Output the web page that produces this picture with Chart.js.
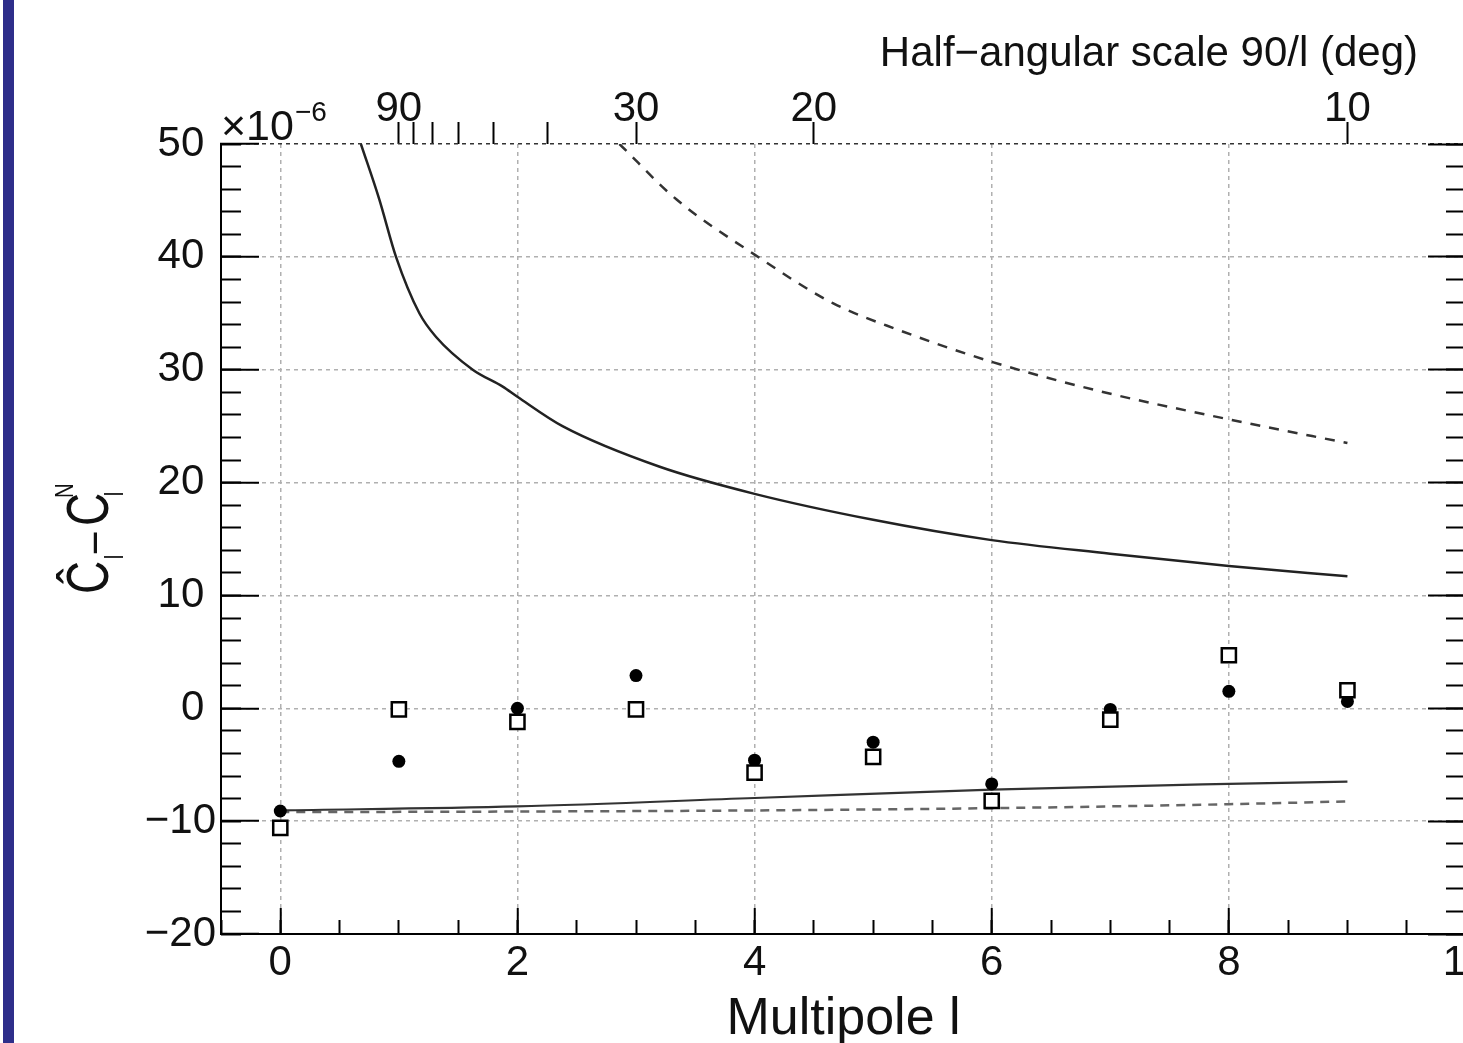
<!DOCTYPE html>
<html>
<head>
<meta charset="utf-8">
<script src="https://cdn.jsdelivr.net/npm/chart.js@4.4.0/dist/chart.umd.min.js"></script>
<style>
  html, body { margin: 0; padding: 0; background: #fff; overflow: hidden; }
  #wrap { position: relative; width: 1463px; height: 1043px; overflow: hidden; }
  #bar { position: absolute; left: 3px; top: 0; width: 11px; height: 1043px; background: #2e2e8a; }
  #myChart { position: absolute; left: 0; top: 0; }
</style>
</head>
<body>
<div id="wrap">
  <div id="bar"></div>
  <canvas id="myChart" width="1481" height="1043"></canvas>
</div>
<script>
// multipoles and the two sets of measured points (x 1e-6)
const multipoles = [0, 1, 2, 3, 4, 5, 6, 7, 8, 9];
const filledValues = [-9.1, -4.7, 0.0, 2.9, -4.6, -3.0, -6.7, -0.1, 1.5, 0.6];
const openValues = [-10.6, -0.1, -1.2, -0.1, -5.7, -4.3, -8.2, -1.0, 4.7, 1.6];

// curves
const upperSolidL = [0.68, 0.835, 0.976, 1.173, 1.314, 1.623, 1.876, 2.0, 2.38, 3.2, 4, 5, 6, 7, 8, 9];
const upperSolidV = [50, 45.1, 40.0, 35.0, 32.9, 30.0, 28.5, 27.6, 25.0, 21.4, 19.0, 16.7, 14.9, 13.7, 12.6, 11.7];
const upperDashL = [2.86, 3.34, 4.0, 4.66, 5.22, 6.0, 6.91, 8.0, 9.0];
const upperDashV = [50, 45.1, 40.2, 35.9, 33.5, 30.7, 28.1, 25.6, 23.5];
const lowerSolidL = [0, 2, 4, 6, 8, 9];
const lowerSolidV = [-9.05, -8.7, -7.95, -7.2, -6.7, -6.5];
const lowerDashL = [0, 2, 4, 6, 8, 9];
const lowerDashV = [-9.2, -9.15, -9.05, -8.85, -8.5, -8.25];

// ticks
const xMajorTicks = [0, 2, 4, 6, 8, 10];
const topDegrees = [90, 80, 70, 60, 50, 40, 30, 20, 10];
const topDegreeLabels = ['90', '', '', '', '', '', '30', '20', '10'];
const topAxisTitle = 'Half\u2212angular scale 90/l (deg)';

const FONT = '"Liberation Sans", Arial, sans-serif';
const tickFont = { family: FONT, size: 42, lineHeight: 1 };

const toPoints = (xs, ys) => xs.map((x, i) => ({ x: x, y: ys[i] }));
const fmt = v => (v < 0 ? '\u2212' + Math.abs(v) : String(v));
// negative y labels sit a bit closer to the axis in the original
const fmtY = v => (v < 0 ? '\u2212' + Math.abs(v) : String(v) + ' ');

// fixed axis box sizes, no extra label padding
const fixBox = (w, h) => s => {
    if (w !== null) s.width = w;
    if (h !== null) s.height = h;
    s.paddingLeft = 0;
    s.paddingRight = 0;
    s.paddingTop = 0;
    s.paddingBottom = 0;
};

const extraText = {
    id: 'extraText',
    afterDraw(chart) {
        const { ctx, chartArea } = chart;
        ctx.save();
        ctx.fillStyle = '#111';
        ctx.textBaseline = 'alphabetic';
        ctx.textAlign = 'left';
        // exponent of the y scale
        ctx.font = '43px ' + FONT;
        ctx.fillText('\u00d710', chartArea.left, chartArea.top - 4);
        const w = ctx.measureText('\u00d710').width;
        ctx.font = '28px ' + FONT;
        ctx.fillText('\u22126', chartArea.left + w + 1, chartArea.top - 23);
        // title of the top axis
        ctx.font = '42px ' + FONT;
        ctx.textAlign = 'right';
        ctx.fillText(topAxisTitle, chartArea.right - 48, 66);
        // y title with sub/superscripts
        ctx.translate(108, (chartArea.top + chartArea.bottom) / 2 + 55);
        ctx.rotate(-Math.PI / 2);
        ctx.scale(0.85, 1.1);
        ctx.textAlign = 'left';
        const parts = [
            ['\u0108', 54, 0, 0],
            ['l', 24, 41, 14],
            ['\u2013', 44, 48, 0],
            ['C', 54, 80, 0],
            ['l', 24, 115, 14],
            ['N', 24, 113, -32]
        ];
        parts.forEach(([t, size, dx, dy]) => {
            ctx.font = size + 'px ' + FONT;
            ctx.fillText(t, dx, dy);
        });
        ctx.restore();
    }
};

const ctx = document.getElementById('myChart').getContext('2d');

const data = {
    datasets: [
        {
            data: toPoints(multipoles, openValues),
            pointStyle: 'rect',
            pointRadius: 10,
            pointBackgroundColor: '#fff',
            pointBorderColor: '#000',
            pointBorderWidth: 2.5,
            showLine: false
        },
        {
            data: toPoints(multipoles, filledValues),
            pointStyle: 'circle',
            pointRadius: 6.5,
            pointBackgroundColor: '#000',
            pointBorderWidth: 0,
            showLine: false
        },
        {
            data: toPoints(upperSolidL, upperSolidV),
            showLine: true,
            pointRadius: 0,
            borderColor: '#222',
            borderWidth: 2.5,
            cubicInterpolationMode: 'monotone'
        },
        {
            data: toPoints(upperDashL, upperDashV),
            showLine: true,
            pointRadius: 0,
            borderColor: '#333',
            borderWidth: 2.5,
            borderDash: [10, 9],
            cubicInterpolationMode: 'monotone'
        },
        {
            data: toPoints(lowerSolidL, lowerSolidV),
            showLine: true,
            pointRadius: 0,
            borderColor: '#333',
            borderWidth: 2.2,
            cubicInterpolationMode: 'monotone'
        },
        {
            data: toPoints(lowerDashL, lowerDashV),
            showLine: true,
            pointRadius: 0,
            borderColor: '#666',
            borderWidth: 2.5,
            borderDash: [9, 7],
            cubicInterpolationMode: 'monotone'
        }
    ]
};

const minorTicks = {
    border: { display: false }
};

const config = {
    type: 'scatter',
    data: data,
    options: {
        responsive: false,
        devicePixelRatio: 1,
        animation: false,
        layout: { padding: 0 },
        plugins: {
            legend: { display: false },
            tooltip: { enabled: false }
        },
        scales: {
            x: {
                type: 'linear',
                position: 'bottom',
                weight: 1,
                min: -0.5,
                max: 10,
                afterBuildTicks: s => { s.ticks = xMajorTicks.map(v => ({ value: v })); },
                afterFit: fixBox(null, 109),
                ticks: { font: tickFont, color: '#111', padding: 34, autoSkip: false, maxRotation: 0, callback: v => fmt(v) },
                grid: { color: '#b0b0b0', lineWidth: 1.5, tickLength: -26, tickColor: '#000', tickWidth: 2 },
                border: { display: true, color: '#000', width: 2, dash: [4, 4] },
                title: {
                    display: true,
                    text: 'Multipole l',
                    color: '#111',
                    font: { family: FONT, size: 52, lineHeight: 1 },
                    padding: { top: 0, bottom: -3 }
                }
            },
            xMinor: {
                type: 'linear',
                position: 'bottom',
                weight: 0,
                min: -0.5,
                max: 10,
                afterFit: fixBox(null, 0),
                ...minorTicks,
                ticks: { display: false, autoSkip: false, stepSize: 0.5 },
                grid: { drawOnChartArea: false, tickColor: '#000', tickWidth: 2, tickLength: -14 }
            },
            xTop: {
                type: 'linear',
                position: 'top',
                min: -0.5,
                max: 10,
                afterBuildTicks: s => { s.ticks = topDegrees.map(d => ({ value: 90 / d })); },
                afterFit: fixBox(null, 144),
                ticks: { font: tickFont, color: '#111', padding: -8, autoSkip: false, maxRotation: 0, callback: (v, i) => topDegreeLabels[i] },
                grid: { drawOnChartArea: false, tickLength: 22, tickColor: '#000', tickWidth: 2 },
                border: { display: false }
            },
            y: {
                type: 'linear',
                position: 'left',
                weight: 1,
                min: -20,
                max: 50,
                afterFit: fixBox(221, null),
                ticks: { stepSize: 10, font: tickFont, color: '#111', padding: 43, autoSkip: false, callback: v => fmtY(v) },
                grid: {
                    color: c => (c.tick.value === 50 ? '#333' : c.tick.value === -20 ? 'rgba(0,0,0,0)' : '#b0b0b0'),
                    lineWidth: 1.5,
                    tickLength: -38,
                    tickColor: '#000',
                    tickWidth: 2
                },
                border: { display: true, color: '#000', width: 2, dash: [4, 4] }
            },
            yMinor: {
                type: 'linear',
                position: 'left',
                weight: 0,
                min: -20,
                max: 50,
                afterFit: fixBox(0, null),
                ...minorTicks,
                ticks: { display: false, autoSkip: false, stepSize: 2 },
                grid: { drawOnChartArea: false, tickColor: '#000', tickWidth: 2, tickLength: -20 }
            },
            yR: {
                type: 'linear',
                position: 'right',
                weight: 1,
                min: -20,
                max: 50,
                afterFit: fixBox(15, null),
                ticks: { display: false, stepSize: 10 },
                grid: { drawOnChartArea: false, tickColor: '#000', tickWidth: 2, tickLength: -38 },
                border: { display: true, color: '#000', width: 2 }
            },
            yRMinor: {
                type: 'linear',
                position: 'right',
                weight: 0,
                min: -20,
                max: 50,
                afterFit: fixBox(0, null),
                ...minorTicks,
                ticks: { display: false, autoSkip: false, stepSize: 2 },
                grid: { drawOnChartArea: false, tickColor: '#000', tickWidth: 2, tickLength: -20 }
            }
        }
    },
    plugins: [extraText]
};

const myChart = new Chart(ctx, config);
</script>
</body>
</html>
